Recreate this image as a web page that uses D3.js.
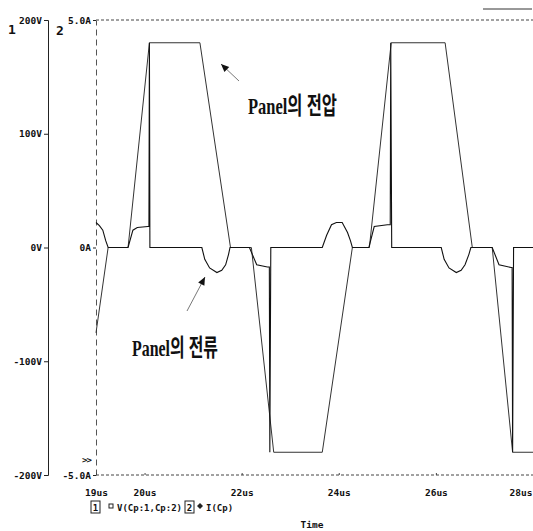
<!DOCTYPE html>
<html><head><meta charset="utf-8">
<script src="https://cdn.jsdelivr.net/npm/d3@7"></script>
<style>
body{margin:0;background:#fff}
svg{display:block;background:#fff}
.mono{font-family:"DejaVu Sans Mono","Liberation Mono",monospace;font-weight:bold;fill:#111}
.note{font-family:"Liberation Serif","Noto Sans CJK KR",serif;font-weight:bold;fill:#111}
</style>
</head><body>
<svg id="c" width="533" height="531"></svg>
<script>
// ---- data ----
const timeTicks = [19, 20, 22, 24, 26, 28];
const timeTickLabels = ["19us", "20us", "22us", "24us", "26us", "28us"];
const voltTicks = [200, 100, 0, -100, -200];
const voltTickLabels = ["200V", "100V", "0V", "-100V", "-200V"];
const currTicks = [5, 0, -5];
const currTickLabels = ["5.0A", "0A", "-5.0A"];
const seriesNames = ["V(Cp:1,Cp:2)", "I(Cp)"];
const notes = ["Panel의 전압", "Panel의 전류"];

// panel voltage (V)
const vTime  = [19.0, 19.25, 19.66, 20.1, 21.14, 21.77, 22.2, 22.66, 23.66, 24.28, 24.63, 25.08, 26.19, 26.75, 27.16, 27.58, 28.0];
const vValue = [-75, 0, 0, 180, 180, 0, 0, -180, -180, 0, 0, 180, 180, 0, 0, -180, -180];

// panel current (A)
const iTime  = [19.0, 19.07, 19.14, 19.2, 19.25, 19.66, 19.76, 19.85, 20.07, 20.09, 20.1, 20.11,
                21.18, 21.24, 21.34, 21.49, 21.59, 21.67, 21.73, 21.76,
                22.16, 22.31, 22.53, 22.57, 22.58, 22.6,
                23.66, 23.75, 23.85, 23.95, 24.07, 24.18, 24.24, 24.28,
                24.62, 24.73, 25.0, 25.06, 25.07, 25.09,
                26.11, 26.17, 26.27, 26.42, 26.52, 26.6, 26.68, 26.72,
                27.16, 27.3, 27.55, 27.57, 27.58, 27.6, 28.0];
const iValue = [0.55, 0.48, 0.38, 0.15, 0, 0, 0.38, 0.44, 0.46, 0.46, 4.5, 0,
                0, -0.26, -0.45, -0.55, -0.5, -0.38, -0.15, 0,
                0, -0.38, -0.43, -0.43, -4.5, 0,
                0, 0.27, 0.5, 0.55, 0.55, 0.33, 0.15, 0,
                0, 0.46, 0.5, 0.5, 4.5, 0,
                0, -0.26, -0.45, -0.55, -0.5, -0.38, -0.15, 0,
                0, -0.38, -0.44, -0.44, -4.5, 0, 0];

// ---- layout ----
const svg = d3.select("#c");
const X0 = 96, X1 = 533, YT = 20, YB = 475;
const x = d3.scaleLinear().domain([19, 28]).range([X0, X1]);
const yV = d3.scaleLinear().domain([-200, 200]).range([YB, YT]);
const yI = d3.scaleLinear().domain([-5, 5]).range([YB, YT]);

// top / bottom dashed frame
[YT, YB].forEach(yy => {
  svg.append("line").attr("x1", X0).attr("x2", 533).attr("y1", yy).attr("y2", yy)
    .attr("stroke", "#444").attr("stroke-width", 1).attr("stroke-dasharray", "3,2");
});

// axis 1 (voltage)
const ax1 = svg.append("g").attr("transform", "translate(48,0)")
  .call(d3.axisLeft(yV).tickValues(voltTicks).tickFormat((d, i) => voltTickLabels[i])
        .tickSize(4).tickSizeOuter(4).tickPadding(2));
ax1.selectAll("path,line").attr("stroke", "#222");
ax1.selectAll("text").attr("class", "mono").style("font-size", "9.5px");

// axis 2 (current)
const ax2 = svg.append("g").attr("transform", `translate(${X0},0)`)
  .call(d3.axisLeft(yI).tickValues(currTicks).tickFormat((d, i) => currTickLabels[i])
        .tickSize(3).tickSizeOuter(0).tickPadding(2));
ax2.select(".domain").attr("stroke", "#555").attr("stroke-dasharray", "6,4");
ax2.selectAll(".tick line").attr("stroke", "#222");
ax2.selectAll("text").attr("class", "mono").style("font-size", "9.5px");

// x axis
const axx = svg.append("g").attr("transform", `translate(0,${YB})`)
  .call(d3.axisBottom(x).tickValues(timeTicks).tickFormat((d, i) => timeTickLabels[i])
        .tickSize(-2).tickSizeOuter(0).tickPadding(14));
axx.select(".domain").remove();
axx.selectAll(".tick line").attr("stroke", "#444");
axx.selectAll("text").attr("class", "mono").style("font-size", "9.5px");
axx.selectAll(".tick").filter(d => d === 28).select("text").attr("text-anchor", "end").attr("x", -1);

// axis numbers
svg.append("text").attr("class", "mono").attr("x", 8).attr("y", 34).style("font-size", "13px").text("1");
svg.append("text").attr("class", "mono").attr("x", 56).attr("y", 35).style("font-size", "13px").text("2");
svg.append("text").attr("class", "mono").attr("x", 82).attr("y", 463).style("font-size", "9px")
  .attr("letter-spacing", "-1").text(">>");

// top-right small mark
svg.append("line").attr("x1", 483).attr("x2", 532).attr("y1", 9).attr("y2", 9).attr("stroke", "#333");

// traces
const lineV = d3.line().x((d, i) => x(vTime[i])).y((d, i) => yV(vValue[i]));
const lineI = d3.line().x((d, i) => x(iTime[i])).y((d, i) => yI(iValue[i]));
svg.append("path").attr("d", lineV(vTime)).attr("fill", "none")
  .attr("stroke", "#333").attr("stroke-width", 1);
svg.append("path").attr("d", lineI(iTime)).attr("fill", "none")
  .attr("stroke", "#111").attr("stroke-width", 1.1);

// annotations (condensed, as in the print)
function note(txt, x0, yb, w) {
  const t = svg.append("text").attr("class", "note").style("font-size", "24px").text(txt);
  const nat = t.node().getComputedTextLength();
  t.attr("transform", `translate(${x0},${yb}) scale(${w / nat},1)`);
}
note(notes[0], 248, 114, 89);
note(notes[1], 132, 356, 86);

// arrows
function arrow(x1, y1, x2, y2) {
  svg.append("line").attr("x1", x1).attr("y1", y1).attr("x2", x2).attr("y2", y2)
    .attr("stroke", "#555").attr("stroke-width", 0.8);
  const a = Math.atan2(y2 - y1, x2 - x1), L = 8, W = 3.5;
  const bx = x2 - L * Math.cos(a), by = y2 - L * Math.sin(a);
  const px = -Math.sin(a) * W, py = Math.cos(a) * W;
  svg.append("path").attr("d", `M${x2},${y2}L${bx + px},${by + py}L${bx - px},${by - py}Z`).attr("fill", "#111");
}
arrow(239, 81, 221, 64);
arrow(187, 311, 205, 277);

// legend
const lg = svg.append("g");
lg.append("rect").attr("x", 91).attr("y", 501).attr("width", 9).attr("height", 12).attr("fill", "none").attr("stroke", "#222");
lg.append("text").attr("class", "mono").attr("x", 95.5).attr("y", 511).attr("text-anchor", "middle").style("font-size", "9px").text("1");
lg.append("rect").attr("x", 109).attr("y", 504).attr("width", 4).attr("height", 4).attr("fill", "none").attr("stroke", "#222");
lg.append("text").attr("class", "mono").attr("x", 117).attr("y", 511).style("font-size", "9px").text(seriesNames[0]);
lg.append("rect").attr("x", 185).attr("y", 501).attr("width", 9).attr("height", 12).attr("fill", "none").attr("stroke", "#222");
lg.append("text").attr("class", "mono").attr("x", 189.5).attr("y", 511).attr("text-anchor", "middle").style("font-size", "9px").text("2");
lg.append("path").attr("d", "M200,503L203,506L200,509L197,506Z").attr("fill", "#222");
lg.append("text").attr("class", "mono").attr("x", 206).attr("y", 511).style("font-size", "9px").text(seriesNames[1]);

svg.append("text").attr("class", "mono").attr("x", 312).attr("y", 528).attr("text-anchor", "middle")
  .style("font-size", "9.5px").text("Time");
</script>
</body></html>
